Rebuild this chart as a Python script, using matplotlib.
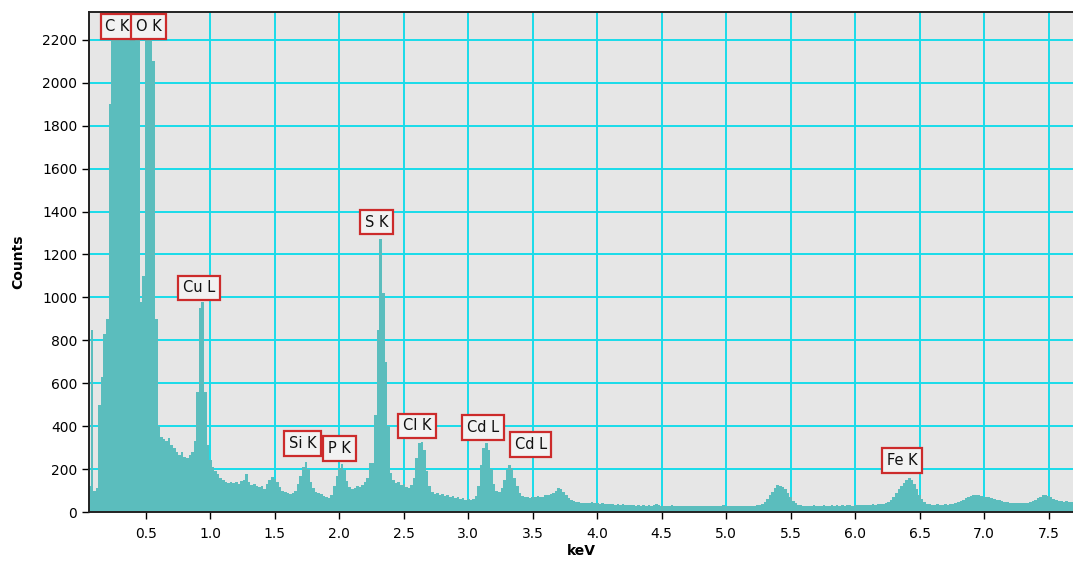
import numpy as np
import matplotlib
matplotlib.use('Agg')
import matplotlib.pyplot as plt

# === EDS spectrum, 0.02 keV channels starting at 0.06 keV ===
ENERGY_START = 0.06
CHANNEL_WIDTH = 0.02

counts = [
    # 0.06 - 0.24
    120, 850, 100, 110, 500, 630, 830, 900, 1900, 3200,
    # 0.26 - 0.44 (C K, above the plot)
    4800, 5400, 5100, 4400, 3800, 3300, 3000, 2900, 2800, 2600,
    # 0.46 - 0.64 (O K)
    980, 1100, 3000, 3600, 3200, 2100, 900, 400, 350, 340,
    # 0.66 - 0.84
    330, 345, 310, 300, 280, 265, 280, 255, 250, 265,
    # 0.86 - 1.04 (Cu L)
    280, 330, 560, 950, 980, 560, 310, 240, 210, 190,
    # 1.06 - 1.24
    175, 160, 150, 140, 135, 140, 135, 140, 130, 145,
    # 1.26 - 1.44
    150, 175, 140, 125, 130, 120, 115, 120, 105, 130,
    # 1.46 - 1.64
    150, 165, 155, 140, 115, 100, 95, 90, 85, 90,
    # 1.66 - 1.84 (Si K)
    100, 130, 170, 210, 235, 200, 140, 110, 95, 90,
    # 1.86 - 2.04 (P K)
    85, 75, 70, 65, 80, 120, 170, 205, 225, 195,
    # 2.06 - 2.24
    145, 115, 105, 110, 120, 115, 125, 140, 160, 230,
    # 2.26 - 2.44 (S K)
    230, 450, 850, 1270, 1020, 700, 400, 180, 150, 135,
    # 2.46 - 2.64 (Cl K)
    140, 125, 130, 115, 110, 125, 160, 250, 320, 325,
    # 2.66 - 2.84
    290, 190, 120, 95, 85, 90, 80, 85, 75, 80,
    # 2.86 - 3.04
    70, 75, 65, 70, 60, 65, 58, 60, 55, 62,
    # 3.06 - 3.24 (Cd La)
    75, 120, 220, 300, 320, 290, 200, 130, 100, 95,
    # 3.26 - 3.44 (Cd Lb)
    110, 150, 200, 220, 205, 160, 120, 90, 75, 70,
    # 3.46 - 3.64
    72, 65, 70, 68, 75, 70, 72, 78, 80, 85,
    # 3.66 - 3.84
    90, 100, 110, 105, 95, 80, 65, 55, 50, 48,
    # 3.86 - 4.04
    45, 42, 44, 40, 42, 45, 40, 42, 38, 40,
    # 4.06 - 4.24
    36, 38, 35, 37, 34, 36, 33, 35, 32, 34,
    # 4.26 - 4.44
    31, 33, 30, 33, 30, 32, 30, 31, 29, 32,
    # 4.46 - 4.64
    35, 33, 30, 28, 30, 29, 31, 28, 30, 27,
    # 4.66 - 4.84
    29, 28, 30, 27, 29, 27, 28, 30, 27, 29,
    # 4.86 - 5.04
    26, 28, 27, 29, 27, 30, 32, 29, 27, 28,
    # 5.06 - 5.24
    26, 28, 27, 29, 27, 28, 30, 28, 30, 32,
    # 5.26 - 5.44
    34, 38, 45, 60, 80, 95, 110, 125, 120, 115,
    # 5.46 - 5.64
    105, 90, 70, 50, 40, 34, 31, 30, 28, 30,
    # 5.66 - 5.84
    29, 31, 28, 30, 29, 31, 29, 30, 32, 29,
    # 5.86 - 6.04
    31, 30, 32, 30, 31, 33, 30, 32, 31, 33,
    # 6.06 - 6.24
    31, 34, 32, 33, 35, 33, 35, 37, 36, 40,
    # 6.26 - 6.44 (Fe K)
    45, 55, 70, 90, 105, 120, 135, 150, 160, 150,
    # 6.46 - 6.64
    130, 105, 80, 60, 45, 38, 35, 34, 33, 35,
    # 6.66 - 6.84
    33, 34, 36, 34, 37, 36, 40, 45, 50, 58,
    # 6.86 - 7.04
    65, 70, 75, 78, 80, 78, 75, 72, 70, 68,
    # 7.06 - 7.24
    65, 62, 58, 55, 50, 47, 45, 44, 42, 43,
    # 7.26 - 7.44
    41, 42, 40, 42, 44, 45, 50, 58, 65, 72,
    # 7.46 - 7.68
    78, 80, 75, 68, 62, 55, 52, 50, 48, 50, 47, 48,
]

# peak labels: text, box centre (keV), box centre (counts)
label_names = ["C K", "O K", "Cu L", "Si K", "P K", "S K", "Cl K", "Cd L", "Cd L", "Fe K"]
label_kev = [0.279, 0.519, 0.911, 1.714, 2.001, 2.288, 2.602, 3.114, 3.483, 6.365]
label_counts = [2263, 2263, 1044, 319, 296, 1350, 401, 394, 315, 240]

x_ticks = [0.5, 1.0, 1.5, 2.0, 2.5, 3.0, 3.5, 4.0, 4.5, 5.0, 5.5, 6.0, 6.5, 7.0, 7.5]
y_ticks = [0, 200, 400, 600, 800, 1000, 1200, 1400, 1600, 1800, 2000, 2200]

energy = ENERGY_START + CHANNEL_WIDTH * np.arange(len(counts))

fig = plt.figure(figsize=(10.73, 5.61), dpi=100)
ax = fig.add_axes([89 / 1073, 1 - 512 / 561, 1 - 89 / 1073, 500 / 561])
ax.set_facecolor("#e6e6e6")

ax.bar(energy, counts, width=CHANNEL_WIDTH, color="#5bbdbd", linewidth=0, zorder=3)

ax.set_xlim(0.058, 7.69)
ax.set_ylim(0, 2330)
ax.set_xticks(x_ticks)
ax.set_xticklabels([f"{v:.1f}" for v in x_ticks])
ax.set_yticks(y_ticks)
ax.grid(True, color="#19dbea", linewidth=1.4, zorder=1)
ax.set_axisbelow(True)
ax.tick_params(direction="out", length=5, width=1, labelsize=10, colors="black")
ax.tick_params(axis="x", pad=6)

ax.spines["right"].set_visible(False)
for s in ("left", "bottom", "top"):
    ax.spines[s].set_linewidth(1.4)
    ax.spines[s].set_color("#222222")
    ax.spines[s].set_zorder(5)

ax.set_xlabel("keV", fontsize=10, fontweight="bold", labelpad=2)
ax.set_ylabel("Counts", fontsize=10, fontweight="bold", labelpad=12)

for i, (name, kx, ky) in enumerate(zip(label_names, label_kev, label_counts)):
    ax.text(kx, ky, name, ha="center", va="center", fontsize=10.5, color="#111111",
            zorder=6 + i, clip_on=False,
            bbox=dict(boxstyle="square,pad=0.32", facecolor="#f2f2f2",
                      edgecolor="#cc2b2b", linewidth=1.6))

fig.savefig("out.png", dpi=100)
